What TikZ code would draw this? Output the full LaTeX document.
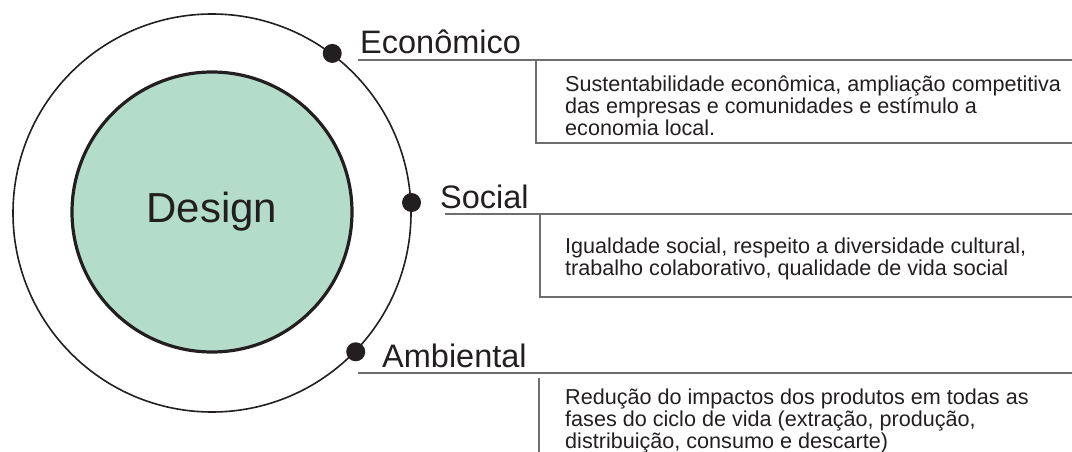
\documentclass[tikz,border=0pt]{standalone}
\usepackage{fontspec}
\setmainfont{Liberation Sans}
\definecolor{designgreen}{RGB}{179,221,202}
\definecolor{boxgray}{RGB}{110,110,110}
\definecolor{ink}{RGB}{35,31,32}
\tikzset{
  outerring/.style={draw=ink, line width=1.6pt},
  innerdisc/.style={draw=ink, fill=designgreen, line width=3.2pt},
  dot/.style={circle, fill=ink, inner sep=0pt, minimum size=19pt},
  pillar/.style={anchor=base west, inner sep=0pt, text=ink, font=\fontsize{32.5}{34}\selectfont},
  desc/.style={anchor=base west, inner sep=0pt, text=ink, align=left, font=\fontsize{21.6}{22.3}\selectfont},
  rule/.style={draw=boxgray, line width=1.2pt}
}
\begin{document}
\begin{tikzpicture}[x=1pt,y=-1pt]
\useasboundingbox (0,0) rectangle (1072,452);
\node[circle, outerring, minimum size=398pt, inner sep=0pt] (outer) at (212,213) {};
\node[circle, innerdisc, minimum size=280pt, inner sep=0pt, text=ink, font=\fontsize{42}{44}\selectfont] (design) at (212,212) {Design};
% dots on the ring
\node[dot] (deco) at (outer.53) {};
\node[dot] (dsoc) at (outer.3) {};
\node[dot] (damb) at (outer.-44.6) {};
% labels
\node[pillar] (leco) at (360,54) {Econômico};
\node[pillar] (lsoc) at (440,208) {Social};
\node[pillar] (lamb) at (382,367) {Ambiental};
% rules
\coordinate (e1) at (358,60);  \coordinate (e2) at (1072,60);
\coordinate (e3) at (536,60);  \coordinate (e4) at (536,143); \coordinate (e5) at (1072,143);
\draw[rule] (e1) -- (e2);
\draw[rule] (e3) -- (e4) -- (e5);
\coordinate (s1) at (445,214); \coordinate (s2) at (1072,214);
\coordinate (s3) at (540,214); \coordinate (s4) at (540,297); \coordinate (s5) at (1072,297);
\draw[rule] (s1) -- (s2);
\draw[rule] (s3) -- (s4) -- (s5);
\coordinate (a1) at (358,373); \coordinate (a2) at (1072,373);
\coordinate (a3) at (539,378); \coordinate (a4) at (539,452);
\draw[rule] (a1) -- (a2);
\draw[rule] (a3) -- (a4);
% descriptions (anchored at the baseline of their last line)
\node[desc] (teco) at (565,135.6) {Sustentabilidade econômica, ampliação competitiva\\das empresas e comunidades e estímulo a\\economia local.};
\node[desc] (tsoc) at (565,275.3) {Igualdade social, respeito a diversidade cultural,\\trabalho colaborativo, qualidade de vida social};
\node[desc] (tamb) at (565,448.6) {Redução do impactos dos produtos em todas as\\fases do ciclo de vida (extração, produção,\\distribuição, consumo e descarte)};
\end{tikzpicture}
\end{document}
